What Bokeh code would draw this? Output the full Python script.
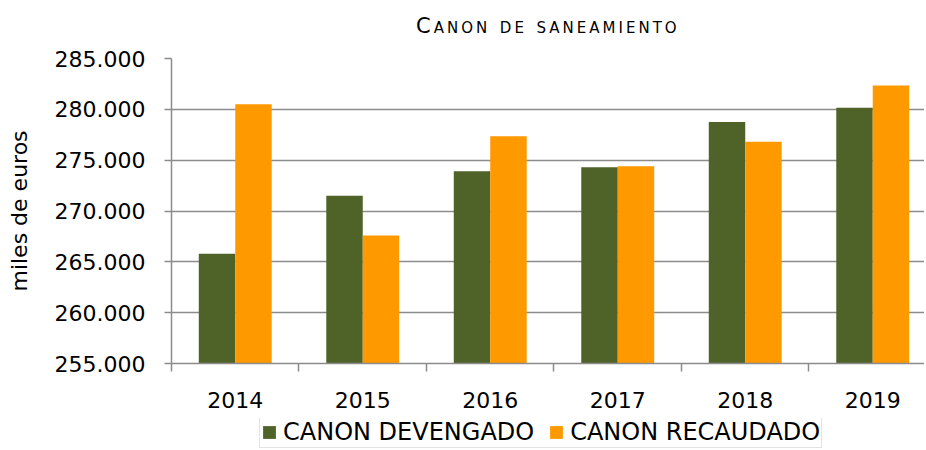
from bokeh.plotting import figure
from bokeh.layouts import column
from bokeh.models import Range1d, FixedTicker, Legend, LegendItem, ColumnDataSource, Div
from bokeh.embed import file_html
from bokeh.resources import INLINE

title_text = "Canon de saneamiento"
series_names = ["CANON DEVENGADO", "CANON RECAUDADO"]
years = ["2014", "2015", "2016", "2017", "2018", "2019"]
devengado = [265800, 271500, 273900, 274300, 278750, 280150]
recaudado = [280500, 267600, 277350, 274400, 276800, 282350]
y_ticks = [255000, 260000, 265000, 270000, 275000, 280000, 285000]

GREEN = "#4F6228"
ORANGE = "#FF9900"
GRID = "#8c8c8c"
FONT = "DejaVu Sans"

BW = 0.286
idx = list(range(len(years)))
src = ColumnDataSource(dict(
    year=years,
    xg=[i + 0.5 - BW / 2 for i in idx],
    xo=[i + 0.5 + BW / 2 for i in idx],
    dev=devengado,
    rec=recaudado,
))

div = Div(
    text=(f'<div style="padding-left:411px;padding-top:9px;white-space:nowrap;'
          f'font-family:\'DejaVu Sans\';font-size:21px;font-variant:small-caps;'
          f'letter-spacing:3px;color:black;line-height:1.164;">{title_text}</div>'),
    width=918, height=26)

p = figure(frame_width=753, frame_height=305, output_backend="svg", toolbar_location=None,
           x_range=Range1d(0, 5.906), y_range=Range1d(255000, 285000),
           min_border_left=171, min_border_right=0, min_border_top=22,
           min_border_bottom=55)
p.outline_line_color = None
p.background_fill_color = "white"
p.border_fill_color = "white"

r1 = p.vbar(x="xg", top="dev", bottom=255000, width=BW, source=src,
            fill_color=GREEN, line_color=None)
r2 = p.vbar(x="xo", top="rec", bottom=255000, width=BW, source=src,
            fill_color=ORANGE, line_color=None)

# y axis
ya = p.yaxis[0]
ya.ticker = FixedTicker(ticks=y_ticks, minor_ticks=[])
ya.major_label_overrides = {v: f"{v:,}".replace(",", ".") for v in y_ticks}
ya.axis_label = "miles de euros"
ya.axis_label_text_font = FONT
ya.axis_label_text_font_size = "22px"
ya.axis_label_text_font_style = "normal"
ya.axis_label_text_color = "black"
ya.axis_label_standoff = 20
ya.major_label_text_font = FONT
ya.major_label_text_font_size = "22px"
ya.major_label_text_color = "black"
ya.major_label_standoff = 19
ya.axis_line_color = GRID
ya.axis_line_width = 1.5
ya.major_tick_line_color = GRID
ya.major_tick_line_width = 1.5
ya.major_tick_out = 7
ya.major_tick_in = 0
ya.minor_tick_line_color = None

# x axis
xa = p.xaxis[0]
centers = [i + 0.5 for i in idx]
xa.ticker = FixedTicker(ticks=centers, minor_ticks=[float(i) for i in range(len(years) + 1)])
xa.major_label_overrides = {c: y for c, y in zip(centers, years)}
xa.major_label_text_font = FONT
xa.major_label_text_font_size = "22px"
xa.major_label_text_color = "black"
xa.major_label_standoff = 20
xa.major_tick_out = 0
xa.major_tick_in = 0
xa.major_tick_line_color = None
xa.minor_tick_line_color = GRID
xa.minor_tick_line_width = 1.5
xa.minor_tick_out = 8
xa.minor_tick_in = 0
xa.axis_line_color = GRID
xa.axis_line_width = 1.5

p.xgrid.grid_line_color = None
p.ygrid.ticker = FixedTicker(ticks=y_ticks)
p.ygrid.grid_line_color = GRID
p.ygrid.grid_line_width = 1.5

# legend strip: a small figure holding only the legend (its bars lie outside its ranges)
pl = figure(width=918, height=30, output_backend="svg", toolbar_location=None,
            x_axis_type=None, y_axis_type=None, min_border=0,
            x_range=Range1d(0, 1), y_range=Range1d(0, 1))
pl.outline_line_color = None
pl.xgrid.grid_line_color = None
pl.ygrid.grid_line_color = None
l1 = pl.vbar(x="xg", top="dev", bottom=255000, width=BW, source=src,
             fill_color=GREEN, line_color=None)
l2 = pl.vbar(x="xo", top="rec", bottom=255000, width=BW, source=src,
             fill_color=ORANGE, line_color=None)

legend = Legend(items=[LegendItem(label=series_names[0], renderers=[l1]),
                       LegendItem(label=series_names[1], renderers=[l2])],
                orientation="horizontal", location=(88, 0))
legend.label_text_font = FONT
legend.label_text_font_size = "24px"
legend.label_text_color = "black"
legend.glyph_width = 16
legend.glyph_height = 16
legend.label_standoff = 6
legend.spacing = 14
legend.padding = 1
legend.margin = 0
legend.border_line_color = "#c8c8c8"
legend.border_line_width = 1.5
legend.background_fill_alpha = 1
pl.add_layout(legend, "center")

layout = column(div, p, pl, spacing=0)
open("out.html", "w").write(file_html(layout, INLINE))
